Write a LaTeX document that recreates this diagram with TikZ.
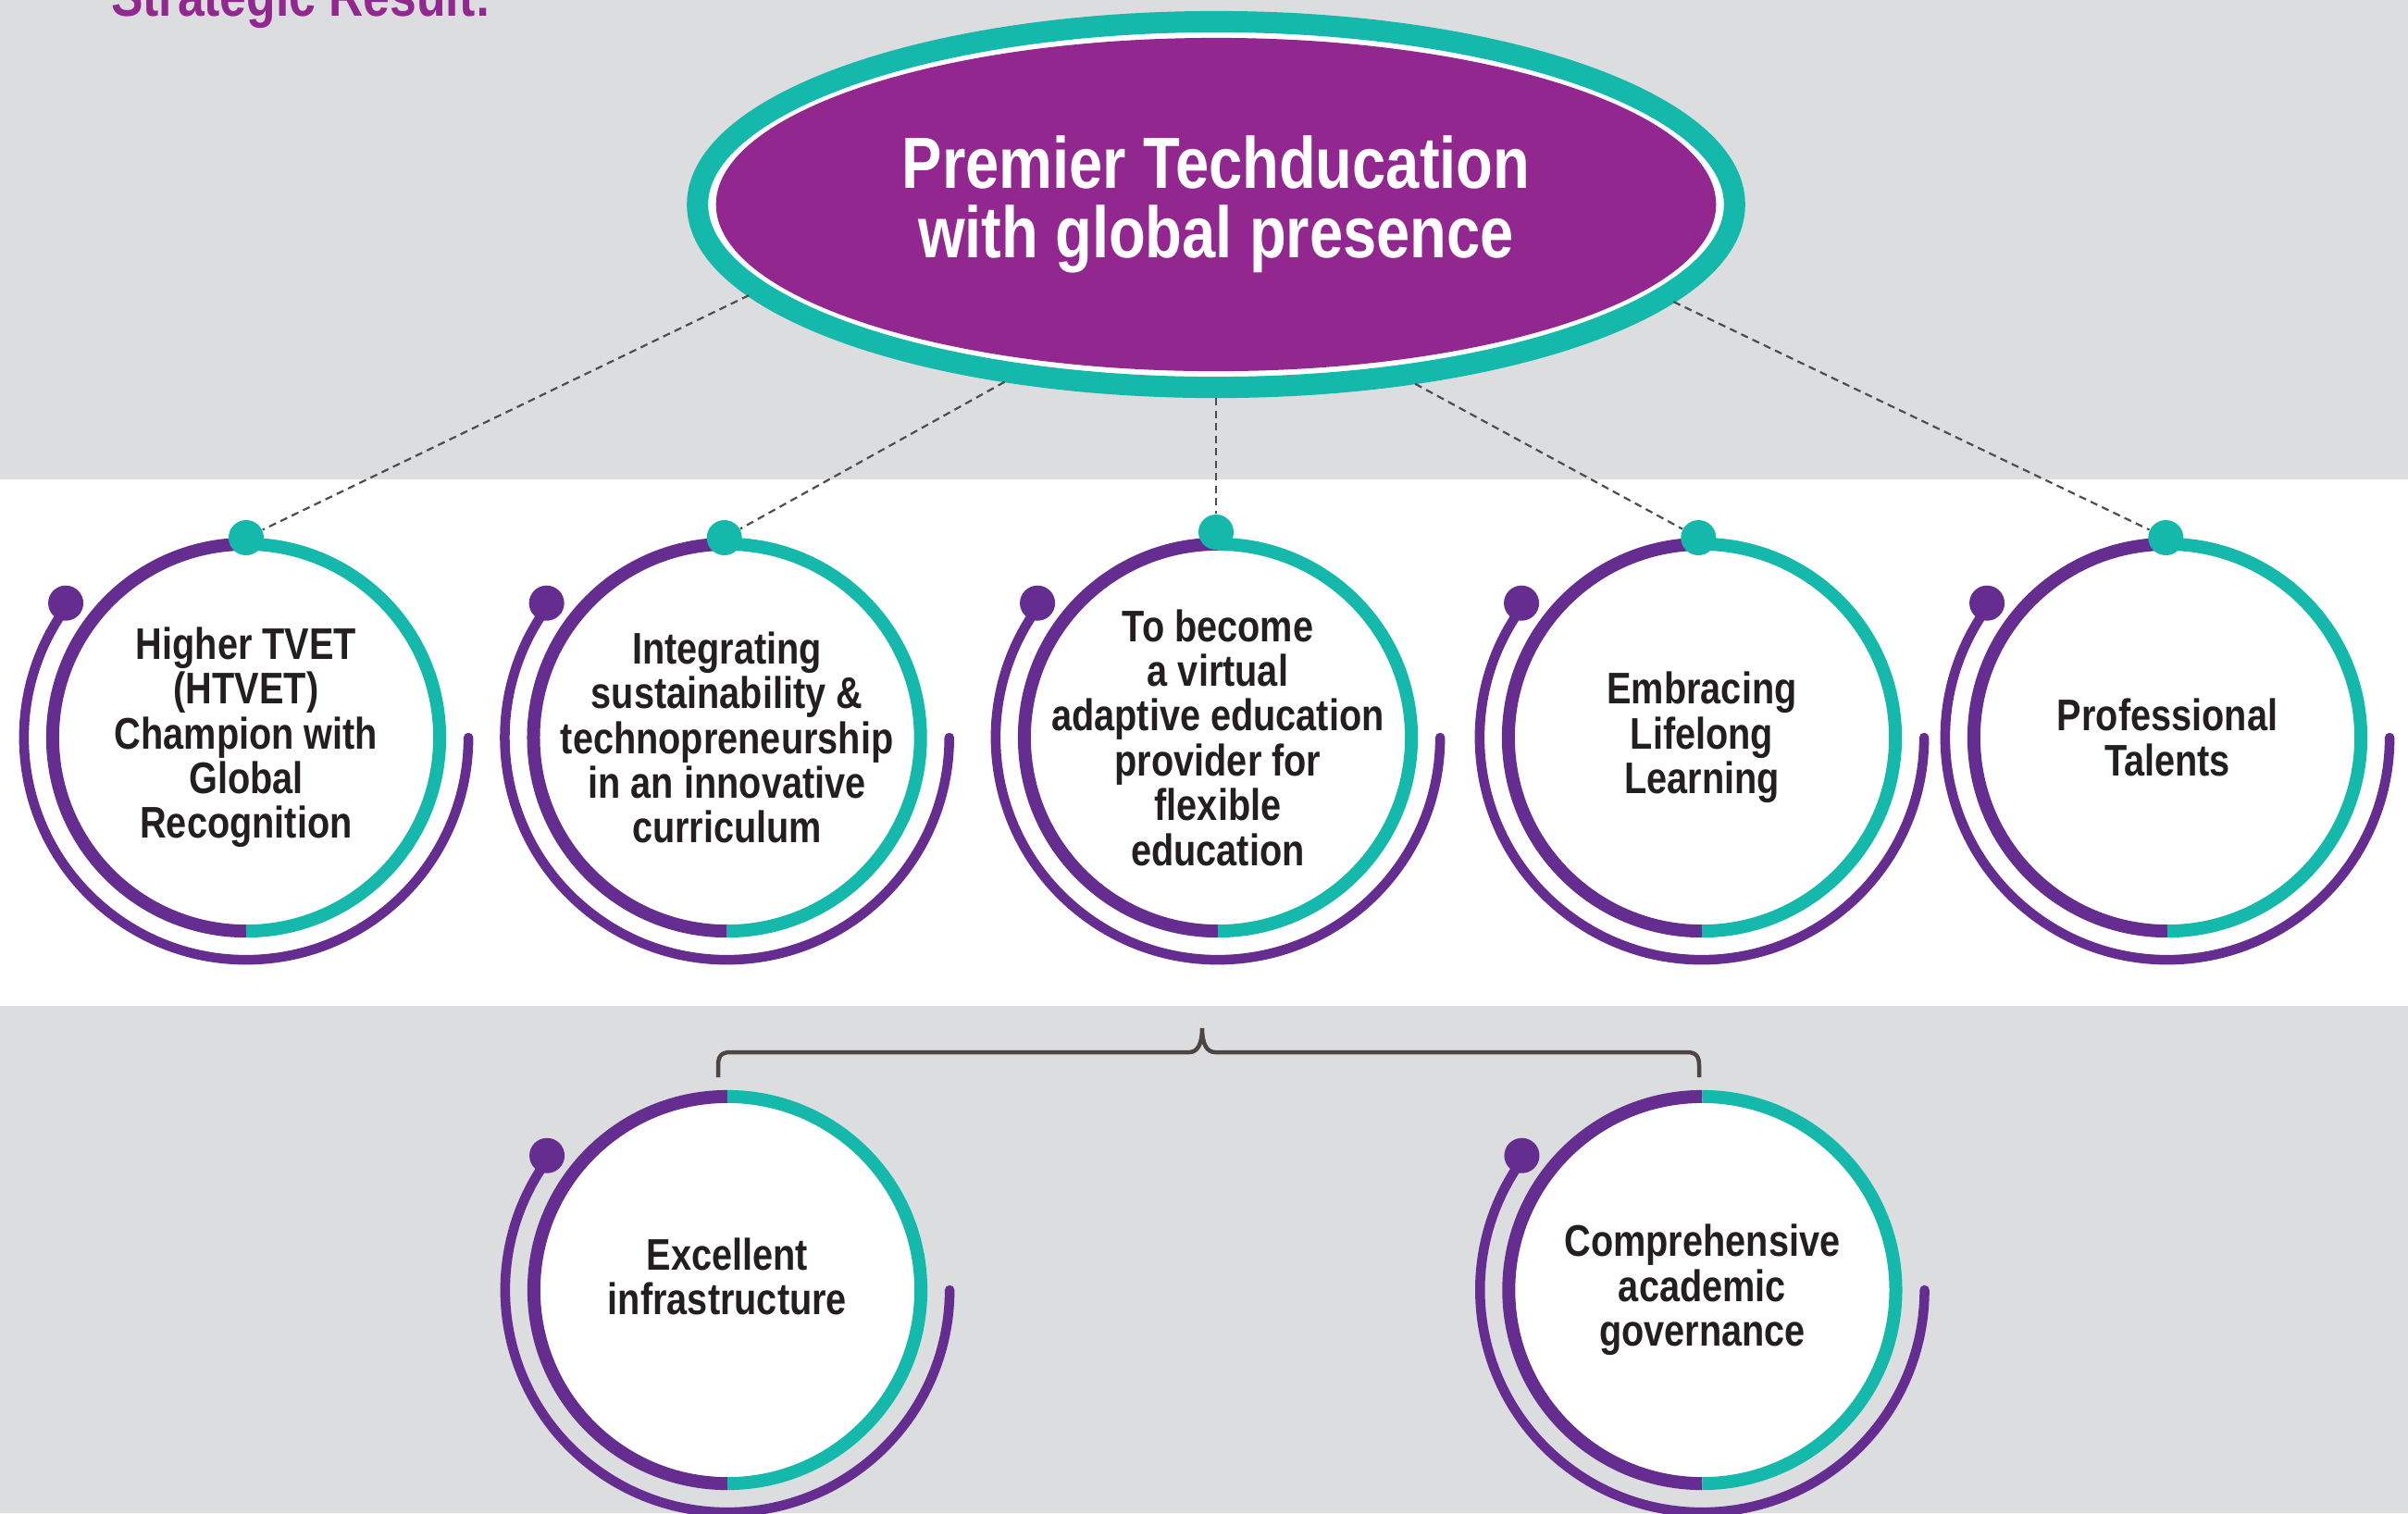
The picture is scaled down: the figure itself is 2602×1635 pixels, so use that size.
\documentclass[tikz,border=0pt]{standalone}
\usepackage{fontspec}
\setmainfont{Liberation Sans}[FakeStretch=0.83]
\usetikzlibrary{shapes.geometric,calc}
\definecolor{bggray}{HTML}{DCDDDF}
\definecolor{ringpurple}{HTML}{662D91}
\definecolor{ringteal}{HTML}{15B9AC}
\definecolor{headpurple}{HTML}{92278F}
\definecolor{textdark}{HTML}{231F20}
\definecolor{dashgray}{HTML}{4D4D4D}
\definecolor{bracecol}{HTML}{4D4541}
\tikzset{
  goalnode/.style={circle, fill=white, minimum size=4.16cm, inner sep=0pt, align=center,
    text=textdark, font=\bfseries\fontsize{13.6}{13.75}\selectfont},
  tealdot/.style={circle, fill=ringteal, minimum size=0.38cm, inner sep=0pt},
  dashconn/.style={draw=dashgray, line width=0.022cm, dash pattern=on 0.08cm off 0.055cm},
  bracestyle/.style={draw=bracecol, line width=0.045cm},
  ringthick/.style={line width=0.14cm},
  ringthin/.style={draw=ringpurple, line width=0.105cm, line cap=round}
}
\newcommand\goalring[1]{%
  \draw[ringpurple, ringthick] (#1.center) ++(90:2.09cm) arc[start angle=90, end angle=270, radius=2.09cm];
  \draw[ringteal, ringthick] (#1.center) ++(270:2.09cm) arc[start angle=270, end angle=450, radius=2.09cm];
  \draw[ringthin] (#1.center) ++(143.3:2.40cm) arc[start angle=143.3, end angle=360, radius=2.40cm];
  \fill[ringpurple] (#1.center) ++(143.3:2.43cm) circle[radius=0.19cm];
}
\newcommand\goal[5][]{%
  \node[goalnode,#1] (#2) at (#3,#4) {#5};
  \goalring{#2}
}
\begin{document}
\begin{tikzpicture}[x=0.01cm,y=0.01cm]
\useasboundingbox (0,0) rectangle (2602,-1635);
\clip (0,0) rectangle (2602,-1635);
% background bands
\fill[bggray] (0,0) rectangle (2602,-518);
\fill[white] (0,-518) rectangle (2602,-1087);
\fill[bggray] (0,-1087) rectangle (2602,-1635);

% title
\node[anchor=base west, inner sep=0pt, text=headpurple,
      font=\bfseries\fontsize{17.7}{18}\selectfont] (title) at (119.6,-17) {Strategic Result:};

% central ellipse
\node[ellipse, draw=ringteal, line width=0.23cm, fill=white, minimum width=11.2cm,
      minimum height=3.95cm, inner sep=0pt] (eo) at (1314,-221) {};
\node[ellipse, fill=headpurple, minimum width=10.8cm, minimum height=3.6cm, inner sep=0pt,
      align=center, text=white, font=\bfseries\fontsize{22.3}{21.3}\selectfont]
      (e) at (1314,-221) {Premier Techducation\\with global presence};

% top row goals
\goal{c1}{266}{-797}{Higher TVET\\(HTVET)\\Champion with\\Global\\Recognition}
\goal{c2}{785.6}{-797}{Integrating\\sustainability \&\\technopreneurship\\in an innovative\\curriculum}
\goal{c3}{1316}{-797}{To become\\a virtual\\adaptive education\\provider for\\flexible\\education}
\goal{c4}{1839}{-797}{Embracing\\Lifelong\\Learning}
\goal{c5}{2342}{-797}{Professional\\Talents}

% bottom row goals
\goal[text depth=0.3cm]{c6}{786}{-1394}{Excellent\\infrastructure}
\goal{c7}{1839.4}{-1394}{Comprehensive\\academic\\governance}

% connector dots
\node[tealdot] (d1) at (266,-581) {};
\node[tealdot] (d2) at (782.7,-581) {};
\node[tealdot] (d3) at (1314,-575) {};
\node[tealdot] (d4) at (1835.3,-581) {};
\node[tealdot] (d5) at (2340.3,-581) {};

% dashed connectors
\draw[dashconn] (eo.191) -- (d1);
\draw[dashconn] (eo.220.5) -- (d2);
\draw[dashconn] (eo.270) -- (d3);
\draw[dashconn] (eo.318.2) -- (d4);
\draw[dashconn] (eo.348) -- (d5);

% brace
\coordinate (bl) at (776,-1164);
\coordinate (br) at (1836,-1164);
\coordinate (bt) at (1299,-1111);
\draw[bracestyle] (bl) -- (776,-1151) .. controls (776,-1142) and (779,-1137) .. (789,-1137)
  -- (1285,-1137) .. controls (1294,-1137) and (1299,-1128) .. (bt)
  .. controls (1299,-1128) and (1304,-1137) .. (1313,-1137)
  -- (1823,-1137) .. controls (1833,-1137) and (1836,-1142) .. (1836,-1151) -- (br);
\end{tikzpicture}
\end{document}
